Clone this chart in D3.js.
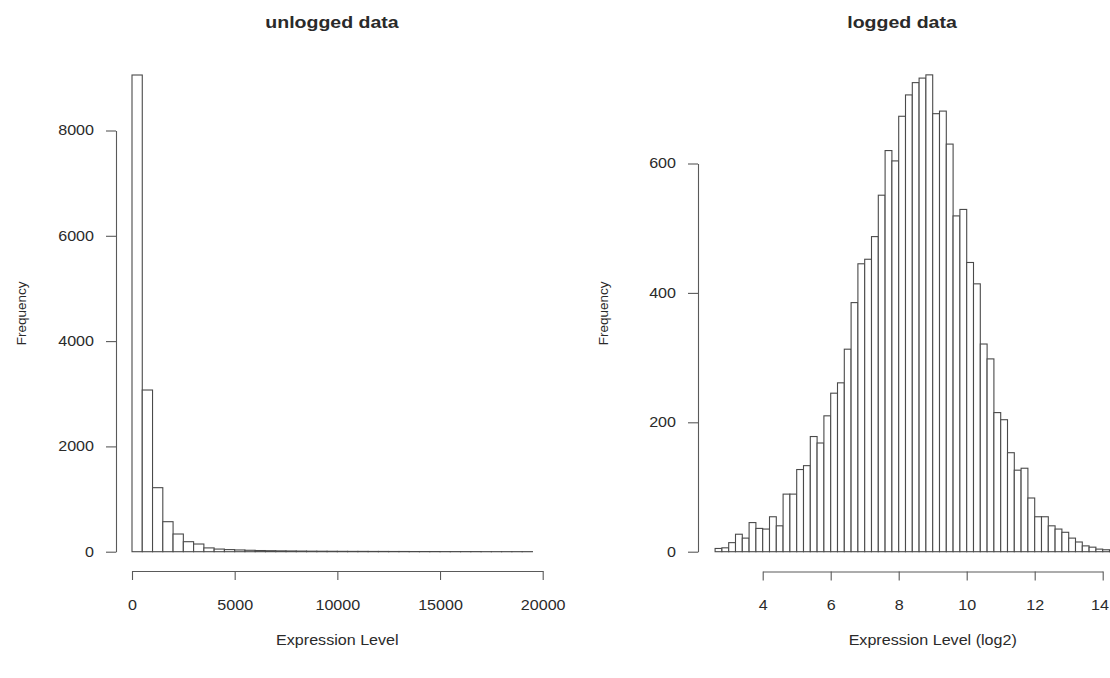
<!DOCTYPE html>
<html>
<head>
<meta charset="utf-8">
<script src="https://cdn.jsdelivr.net/npm/d3@7"></script>
<style>
  html, body { margin: 0; padding: 0; background: #fff; }
  svg { display: block; }
  text { font-family: "Liberation Sans", Arial, sans-serif; fill: #2a2a2a; }
</style>
</head>
<body>
<svg id="chart" width="1110" height="678"></svg>
<script>
// Raw expression counts, bins of 500 starting at 0
const unloggedBreaks = [0, 500, 1000, 1500, 2000, 2500, 3000, 3500, 4000, 4500,
  5000, 5500, 6000, 6500, 7000, 7500, 8000, 8500, 9000, 9500,
  10000, 10500, 11000, 11500, 12000, 12500, 13000, 13500, 14000, 14500,
  15000, 15500, 16000, 16500, 17000, 17500, 18000, 18500, 19000, 19500];
const unloggedCounts = [9054, 3071, 1216, 570, 336, 190, 146, 72, 50, 40,
  33, 27, 22, 19, 16, 14, 12, 10, 9, 8,
  7, 6, 6, 5, 5, 4, 4, 3, 3, 3,
  2, 2, 2, 2, 1, 1, 1, 1, 1];

// log2 expression counts, bins of 0.2 starting at 2.6
const loggedBreaks = [2.6, 2.8, 3.0, 3.2, 3.4, 3.6, 3.8, 4.0, 4.2, 4.4,
  4.6, 4.8, 5.0, 5.2, 5.4, 5.6, 5.8, 6.0, 6.2, 6.4,
  6.6, 6.8, 7.0, 7.2, 7.4, 7.6, 7.8, 8.0, 8.2, 8.4,
  8.6, 8.8, 9.0, 9.2, 9.4, 9.6, 9.8, 10.0, 10.2, 10.4,
  10.6, 10.8, 11.0, 11.2, 11.4, 11.6, 11.8, 12.0, 12.2, 12.4,
  12.6, 12.8, 13.0, 13.2, 13.4, 13.6, 13.8, 14.0, 14.2, 14.4];
const loggedCounts = [5, 6, 14, 27, 21, 45, 36, 35, 54, 40,
  89, 89, 127, 133, 178, 168, 210, 245, 261, 313,
  385, 445, 452, 487, 551, 620, 604, 673, 706, 725,
  732, 737, 677, 681, 630, 519, 529, 447, 414, 321,
  298, 215, 204, 153, 126, 129, 83, 54, 54, 40,
  35, 30, 21, 15, 9, 7, 4, 3, 2];

// Axis tick values
const unloggedXTicks = [0, 5000, 10000, 15000, 20000];
const unloggedYTicks = [0, 2000, 4000, 6000, 8000];
const loggedXTicks = [4, 6, 8, 10, 12, 14];
const loggedYTicks = [0, 200, 400, 600];

// Horizontal text is drawn slightly widened
const STRETCH = 1.15;
const WIDTH = 1110;

const svg = d3.select("#chart");

function hText(g, x, y, str, size, bold) {
  return g.append("text")
    .attr("transform", `translate(${x},${y}) scale(${STRETCH},1)`)
    .attr("text-anchor", "middle")
    .style("font-size", size + "px")
    .style("font-weight", bold ? "bold" : "normal")
    .text(str);
}

function drawHistogram(cfg) {
  const x = d3.scaleLinear().domain(d3.extent(cfg.xTicks)).range(cfg.xRange);
  const y = d3.scaleLinear().domain(d3.extent(cfg.yTicks)).range(cfg.yRange);
  const g = svg.append("g");

  const bins = cfg.counts.map((c, i) => ({ x0: cfg.breaks[i], x1: cfg.breaks[i + 1], n: c }));

  g.selectAll("rect.bar")
    .data(bins)
    .join("rect")
    .attr("class", "bar")
    .attr("x", d => x(d.x0))
    .attr("width", d => x(d.x1) - x(d.x0))
    .attr("y", d => y(d.n))
    .attr("height", d => y(0) - y(d.n))
    .attr("fill", "#fff")
    .attr("stroke", "#4a4a4a")
    .attr("stroke-width", 1.1);

  // Axes sit a little away from the bars, as base R draws them
  const xAxis = d3.axisBottom(x).tickValues(cfg.xTicks).tickSize(9).tickSizeOuter(0).tickPadding(20)
    .tickFormat(d3.format("d"));
  const yAxis = d3.axisLeft(y).tickValues(cfg.yTicks).tickSize(10).tickSizeOuter(0).tickPadding(0)
    .tickFormat(d3.format("d"));

  const gx = g.append("g").attr("transform", `translate(0,${cfg.xAxisY})`).call(xAxis);
  const gy = g.append("g").attr("transform", `translate(${cfg.yAxisX},0)`).call(yAxis);
  [gx, gy].forEach(a => {
    a.selectAll("path, line").attr("stroke", "#5a5a5a").attr("stroke-width", 1.1);
    a.selectAll("text").style("font-size", "14px").attr("fill", "#2a2a2a");
  });
  gx.selectAll(".tick text").attr("transform", `scale(${STRETCH},1)`);
  gy.selectAll(".tick text").attr("x", 0)
    .attr("transform", `translate(-22,0) scale(${STRETCH},1)`);

  // keep tick labels that land on the page edge fully visible
  gx.selectAll(".tick text").each(function () {
    const b = this.getBoundingClientRect();
    if (b.right > WIDTH - 1) {
      d3.select(this).attr("transform",
        `translate(${WIDTH - 1 - b.right},0) scale(${STRETCH},1)`);
    }
  });

  hText(g, cfg.titleX, 28, cfg.title, 17, true);
  hText(g, (cfg.xRange[0] + cfg.xRange[1]) / 2, 645, cfg.xLabel, 14, false);

  g.append("text")
    .attr("transform", `translate(${cfg.yLabelX},${(cfg.yRange[0] + 75) / 2}) rotate(-90)`)
    .attr("text-anchor", "middle")
    .style("font-size", "13.5px")
    .text("Frequency");
}

drawHistogram({
  breaks: unloggedBreaks, counts: unloggedCounts,
  xTicks: unloggedXTicks, yTicks: unloggedYTicks,
  xRange: [132, 542.7], yRange: [551.7, 130.5],
  xAxisY: 571, yAxisX: 116,
  title: "unlogged data", titleX: 332,
  xLabel: "Expression Level", yLabelX: 26
});

drawHistogram({
  breaks: loggedBreaks, counts: loggedCounts,
  xTicks: loggedXTicks, yTicks: loggedYTicks,
  xRange: [762.7, 1102.7], yRange: [551.7, 163.5],
  xAxisY: 571.5, yAxisX: 698,
  title: "logged data", titleX: 902,
  xLabel: "Expression Level (log2)", yLabelX: 608
});
</script>
</body>
</html>
